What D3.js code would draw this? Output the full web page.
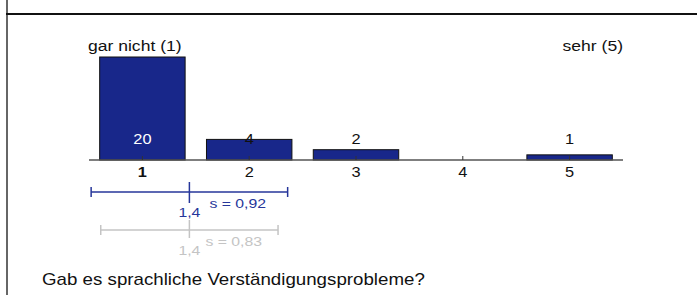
<!DOCTYPE html>
<html>
<head>
<meta charset="utf-8">
<script src="https://cdn.jsdelivr.net/npm/d3@7"></script>
<style>
  html, body { margin: 0; padding: 0; background: #fff; }
  text { font-family: "Liberation Sans", Arial, sans-serif; }
</style>
</head>
<body>
<div id="chart"></div>
<script>
// answer categories and counts
const categories = [1, 2, 3, 4, 5];
const counts = [20, 4, 2, 0, 1];
const poleLabels = ["gar nicht (1)", "sehr (5)"];
const question = "Gab es sprachliche Verständigungsprobleme?";

// mean / sd of this item and of the comparison group
const stats = [
  { mean: 1.44, sd: 0.92, meanLabel: "1,4", sdLabel: "s = 0,92", color: "#26369a" },
  { mean: 1.44, sd: 0.83, meanLabel: "1,4", sdLabel: "s = 0,83", color: "#c4c4c4" }
];

const W = 697, H = 295;
const SX = 1.17; // text in the original is a bit wide
const svg = d3.select("#chart").append("svg")
  .attr("width", W).attr("height", H);

function label(px, py, size, txt) {
  return svg.append("text")
    .attr("transform", `translate(${px},${py}) scale(${SX},1)`)
    .attr("font-size", size)
    .attr("fill", "#111")
    .text(txt);
}

// frame lines
svg.append("line").attr("x1", 7).attr("x2", 7).attr("y1", 0).attr("y2", H)
  .attr("stroke", "#666").attr("stroke-width", 2);
svg.append("line").attr("x1", 6).attr("x2", W).attr("y1", 14).attr("y2", 14)
  .attr("stroke", "#111").attr("stroke-width", 2);

const x = d3.scaleBand().domain(categories).range([89, 623])
  .paddingInner(0.2).paddingOuter(0.1);
// continuous scale for the mean / sd markers, aligned on band centres
const xv = d3.scaleLinear().domain([0.5, 5.5]).range([89, 623]);
const y = d3.scaleLinear().domain([0, 20]).range([160, 57]);
const base = y(0);
const cx = d => x(d) + x.bandwidth() / 2;

// bars
svg.selectAll("rect.bar")
  .data(categories)
  .enter().append("rect")
  .attr("class", "bar")
  .attr("x", d => x(d))
  .attr("y", (d, i) => y(counts[i]))
  .attr("width", x.bandwidth())
  .attr("height", (d, i) => base - y(counts[i]))
  .attr("fill", "#18278a")
  .attr("stroke", "#111")
  .attr("stroke-width", 1);

// axis line
svg.append("line").attr("x1", 89).attr("x2", 623).attr("y1", base).attr("y2", base)
  .attr("stroke", "#555").attr("stroke-width", 1.5);

// small ticks
svg.selectAll("line.tick")
  .data(categories)
  .enter().append("line")
  .attr("x1", cx).attr("x2", cx)
  .attr("y1", base - 4).attr("y2", base)
  .attr("stroke", "#333").attr("stroke-width", 1);

// tick labels
categories.forEach((d, i) => {
  label(cx(d), 177, 14, d)
    .attr("text-anchor", "middle")
    .attr("font-weight", i === 0 ? "bold" : "normal");
});

// count labels (none for empty categories)
categories.forEach((d, i) => {
  if (counts[i] === 0) return;
  label(cx(d), 144, 14, counts[i])
    .attr("text-anchor", "middle")
    .attr("fill", counts[i] >= 5 ? "#fff" : "#111");
});

// pole labels
label(88, 51, 15, poleLabels[0]);
label(623, 51, 15, poleLabels[1]).attr("text-anchor", "end");

// mean +- sd markers
const rows = [192, 230];
stats.forEach((s, i) => {
  const g = svg.append("g");
  const yy = rows[i];
  const lo = xv(s.mean - s.sd), hi = xv(s.mean + s.sd), m = xv(s.mean);
  g.append("line").attr("x1", lo).attr("x2", hi).attr("y1", yy).attr("y2", yy)
    .attr("stroke", s.color).attr("stroke-width", 1.5);
  [lo, hi].forEach(px => {
    g.append("line").attr("x1", px).attr("x2", px).attr("y1", yy - 5).attr("y2", yy + 5)
      .attr("stroke", s.color).attr("stroke-width", 1.5);
  });
  g.append("line").attr("x1", m).attr("x2", m)
    .attr("y1", yy - 10).attr("y2", yy + (i === 0 ? 11 : 8))
    .attr("stroke", s.color).attr("stroke-width", 1.5);
  label(m, yy + 25, 13.5, s.meanLabel)
    .attr("text-anchor", "middle").attr("fill", s.color);
  label(m + (i === 0 ? 20 : 16), yy + 16, 13.5, s.sdLabel)
    .attr("fill", s.color);
});

// question
label(42, 285, 16, question);
</script>
</body>
</html>
